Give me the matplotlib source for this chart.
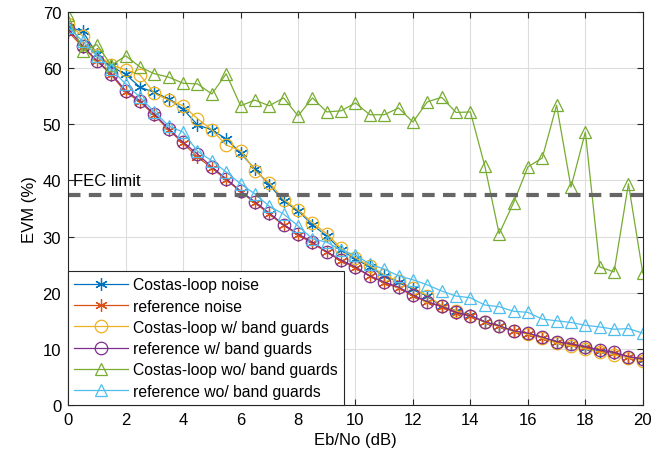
import numpy as np
import matplotlib
matplotlib.use('Agg')
import matplotlib.pyplot as plt

plt.rcParams['font.family'] = ['Liberation Sans', 'DejaVu Sans']

ebno = np.arange(0, 20.5, 0.5)

costas_noise = [67.3, 66.6, 62.5, 60.3, 58.9, 56.6, 55.7, 54.5, 52.7, 49.9,
                49.0, 47.4, 44.9, 42.0, 39.2, 36.3, 34.6, 32.1, 30.1, 27.6,
                26.0, 24.6, 23.0, 21.9, 20.7, 19.4, 17.6, 16.7, 16.0, 14.8,
                14.1, 13.2, 12.7, 12.0, 11.2, 10.8, 10.2, 9.6, 9.2, 8.6, 8.1]
ref_noise = [66.5, 63.8, 61.3, 58.8, 55.7, 54.0, 51.6, 49.0, 46.6, 44.2,
             42.2, 40.1, 38.0, 36.0, 34.0, 32.0, 30.3, 28.8, 27.2, 25.7,
             24.4, 23.0, 21.8, 20.8, 19.5, 18.3, 17.5, 16.4, 15.8, 14.8,
             14.0, 13.2, 12.7, 12.0, 11.2, 10.8, 10.3, 9.8, 9.3, 8.6, 8.2]
costas_bg = [67.9, 65.7, 62.4, 60.6, 59.7, 58.8, 55.5, 54.3, 53.3, 51.0,
             49.0, 46.3, 45.3, 41.7, 39.6, 36.6, 34.7, 32.5, 30.5, 27.9,
             26.2, 24.8, 23.2, 22.0, 20.8, 19.5, 17.7, 16.8, 15.9, 14.7,
             14.0, 13.1, 12.6, 11.9, 11.0, 10.5, 10.0, 9.4, 8.9, 8.4, 7.9]
ref_bg = [67.0, 64.0, 61.3, 59.0, 56.0, 54.2, 51.8, 49.2, 46.8, 44.7,
          42.4, 40.3, 38.1, 36.2, 34.2, 32.1, 30.5, 29.0, 27.3, 25.8,
          24.6, 23.0, 21.9, 21.0, 19.6, 18.4, 17.6, 16.5, 15.9, 14.8,
          14.1, 13.2, 12.8, 12.1, 11.3, 10.9, 10.4, 9.8, 9.4, 8.6, 8.2]
costas_nobg = [69.5, 63.0, 64.2, 60.5, 62.2, 60.2, 59.0, 58.4, 57.3, 57.2,
               55.4, 59.0, 53.3, 54.3, 53.3, 54.7, 51.5, 54.7, 52.2, 52.4,
               53.8, 51.7, 51.7, 52.9, 50.4, 54.0, 54.8, 52.1, 52.2, 42.6,
               30.5, 36.0, 42.4, 44.0, 53.4, 38.8, 48.6, 24.6, 23.7, 39.4, 23.5]
ref_nobg = [67.3, 64.8, 62.2, 59.8, 57.2, 54.8, 52.2, 49.7, 48.6, 45.2,
            43.5, 41.5, 39.4, 37.6, 35.4, 34.0, 31.9, 29.6, 29.0, 27.6,
            26.7, 25.1, 24.2, 23.0, 22.3, 21.4, 20.3, 19.4, 19.1, 17.8,
            17.5, 16.7, 16.5, 15.3, 15.0, 14.7, 14.2, 13.9, 13.5, 13.6, 12.8]
fec_limit = 37.4

labels = ['Costas-loop noise', 'reference noise', 'Costas-loop w/ band guards',
          'reference w/ band guards', 'Costas-loop wo/ band guards',
          'reference wo/ band guards']
colors = ['#0072BD', '#D95319', '#EDB120', '#7E2F8E', '#77AC30', '#4DBEEE']
markers = [(6, 2, 0), (6, 2, 0), 'o', 'o', '^', '^']
series = [costas_noise, ref_noise, costas_bg, ref_bg, costas_nobg, ref_nobg]

fig = plt.figure(figsize=(6.62, 4.64), dpi=100)
ax = fig.add_axes([0.103, 0.125, 0.868, 0.847])

for y, lab, c, m in zip(series, labels, colors, markers):
    ax.plot(ebno, y, color=c, marker=m, markersize=9, markerfacecolor='none',
            markeredgecolor=c, markeredgewidth=0.9, linewidth=0.9, label=lab)

ax.axhline(fec_limit, color='#666666', linestyle=(0, (3, 2)), linewidth=3)
ax.text(0.18, 40, 'FEC limit', fontsize=12, va='center', ha='left')

ax.set_xlim(0, 20)
ax.set_ylim(0, 70)
ax.set_xticks(range(0, 21, 2))
ax.set_yticks(range(0, 71, 10))
ax.tick_params(direction='in', top=True, right=True, labelsize=12,
               color='#262626', length=4, pad=5)
for s in ax.spines.values():
    s.set_color('#262626')
    s.set_linewidth(0.8)
ax.grid(True, color='#dddddd', linewidth=0.8)
ax.set_axisbelow(True)
ax.set_xlabel('Eb/No (dB)', fontsize=12)
ax.set_ylabel('EVM (%)', fontsize=12)

leg = ax.legend(loc='lower left', fontsize=11.3, borderaxespad=0,
                fancybox=False, framealpha=1, edgecolor='#262626',
                handlelength=3.4, handletextpad=0.3, labelspacing=0.4)
leg.get_frame().set_linewidth(0.8)

fig.savefig('out.png', dpi=100)
